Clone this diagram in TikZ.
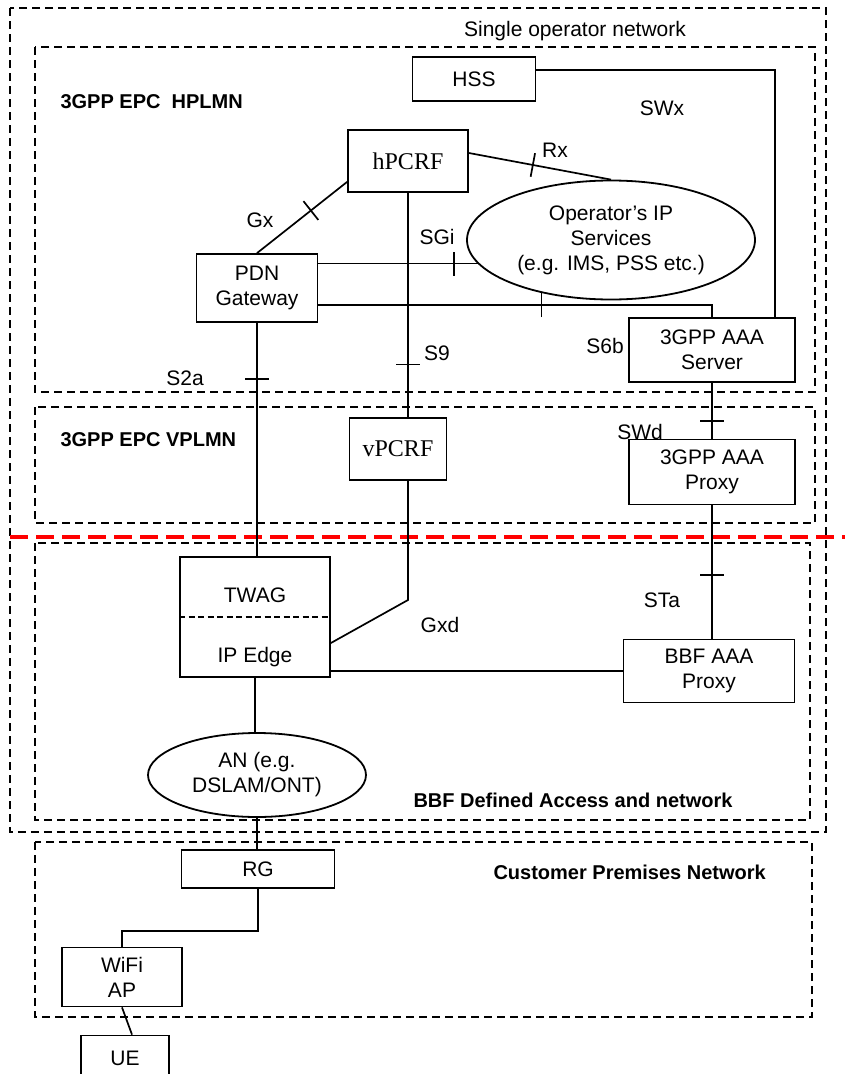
\documentclass[tikz,border=0pt]{standalone}
\usepackage{fontspec}
\setmainfont{Liberation Sans}
\newfontfamily\timesfont{Liberation Serif}
\usepackage{tikz}
\usetikzlibrary{positioning,shapes.geometric,decorations.markings}
\definecolor{rojoborde}{HTML}{FF0000}

\begin{document}
\begin{tikzpicture}[
    x=1pt, y=-1pt,
    font=\fontsize{21}{25}\selectfont,
    caja/.style={draw, line width=1.8pt, align=center, inner sep=2pt, fill=white},
    serifa/.style={font=\fontsize{24}{28}\selectfont\timesfont},
    elipse/.style={caja, ellipse, inner sep=0pt},
    zona/.style={draw, line width=2.8pt, dash pattern=on 8pt off 5pt},
    titulo/.style={anchor=west, font=\fontsize{20}{24}\selectfont\bfseries},
    linea/.style={line width=1.7pt},
    corte/.style={postaction={decorate}, decoration={markings,
      mark=at position #1 with {\draw[line width=1.7pt] (0,-12pt) -- (0,12pt);}}}
  ]
    \useasboundingbox (0,0) rectangle (845,1074);

    % zonas
    \draw[zona] (10,8) rectangle (826,832);
    \draw[zona] (35,47) rectangle (815,392);
    \draw[zona] (35,407) rectangle (815,523);
    \draw[zona] (35,543) rectangle (810,820);
    \draw[zona] (35,842) rectangle (812,1017);
    \draw[rojoborde, line width=4.5pt, dash pattern=on 18pt off 8pt] (10,537) -- (845,537);

    \node at (575,31) {Single operator network};
    \node[titulo] at (57,102) {3GPP EPC\ \ HPLMN};
    \node[titulo] at (57,440) {3GPP EPC VPLMN};
    \node[titulo] at (410,800) {BBF Defined Access and network};
    \node[titulo] at (490,872) {Customer Premises Network};

    % nodos
    \node[caja, minimum width=123pt, minimum height=44pt] (hss) at (474,79) {HSS};
    \node[caja, serifa, minimum width=120pt, minimum height=62pt] (hpcrf) at (408,161) {hPCRF};
    \node[elipse, minimum width=288pt, minimum height=119pt] (ops) at (611,240) {Operator’s IP\\Services\\(e.g. IMS, PSS etc.)};
    \node[caja, minimum width=121pt, minimum height=68pt] (pdn) at (257,288) {PDN\\Gateway};
    \node[caja, minimum width=166pt, minimum height=64pt] (aaas) at (712,350) {3GPP AAA\\Server};
    \node[caja, serifa, minimum width=97pt, minimum height=62pt] (vpcrf) at (398,449) {vPCRF};
    \node[caja, minimum width=166pt, minimum height=65pt] (aaap) at (712,472) {3GPP AAA\\Proxy};
    \node[caja, minimum width=150pt, minimum height=120pt] (twag) at (255,617) {};
    \node at (255,595) {TWAG};
    \node at (255,657) {IP Edge};
    \node[caja, minimum width=171pt, minimum height=63pt] (bbfp) at (709,671) {BBF AAA\\Proxy};
    \node[elipse, minimum width=218pt, minimum height=84pt] (an) at (257,775) {AN (e.g.\\DSLAM/ONT)};
    \node[caja, minimum width=153pt, minimum height=38pt] (rg) at (258,869) {RG};
    \node[caja, minimum width=120pt, minimum height=59pt] (wifi) at (122,977) {WiFi\\AP};
    \node[caja, minimum width=88pt, minimum height=45pt] (ue) at (125,1058) {UE};

    \draw[line width=2.2pt, dash pattern=on 6pt off 3.5pt] (twag.west) -- (twag.east);

    % conexiones
    \draw[linea] ([yshift=9pt]hss.east) -| ([xshift=63pt]aaas.north);
    \draw[linea, corte=0.45] ([yshift=8pt]hpcrf.east) -- (ops.north);
    \draw[linea, corte=0.6] (pdn.north) -- ([yshift=11pt]hpcrf.south west);
    \draw[linea, corte=0.85] (ops.190 -| pdn.east) -- (ops.190);
    \draw[linea, corte=0.55] ([yshift=-17pt]pdn.east) -| (aaas.north);
    \draw[linea, corte=0.765] (hpcrf.south) -- (hpcrf.south |- vpcrf.north);
    \coordinate (quiebre) at (408,600);
    \draw[linea] (vpcrf.south -| hpcrf.south) -- (quiebre) -- ([yshift=-26pt]twag.east);
    \draw[linea, corte=0.24] (pdn.south) -- (pdn.south |- twag.north);
    \draw[linea, corte=0.69] (aaas.south) -- (aaap.north);
    \draw[linea, corte=0.52] (aaap.south) -- (aaap.south |- bbfp.north);
    \draw[linea] (bbfp.west -| twag.east) -- (bbfp.west);
    \draw[linea] (twag.south) -- (an.north -| twag.south);
    \draw[linea] (an.south) -- (rg.north -| an.south);
    \draw[linea] (rg.south) -- ++(0,42) -| (wifi.north);
    \draw[linea] (wifi.south) -- ([xshift=7pt]ue.north);

    % etiquetas
    \node at (662,108) {SWx};
    \node at (555,150) {Rx};
    \node at (260,220) {Gx};
    \node at (437,237) {SGi};
    \node at (605,346) {S6b};
    \node at (437,353) {S9};
    \node at (185,378) {S2a};
    \node at (640,432) {SWd};
    \node at (662,600) {STa};
    \node at (440,625) {Gxd};
\end{tikzpicture}
\end{document}
